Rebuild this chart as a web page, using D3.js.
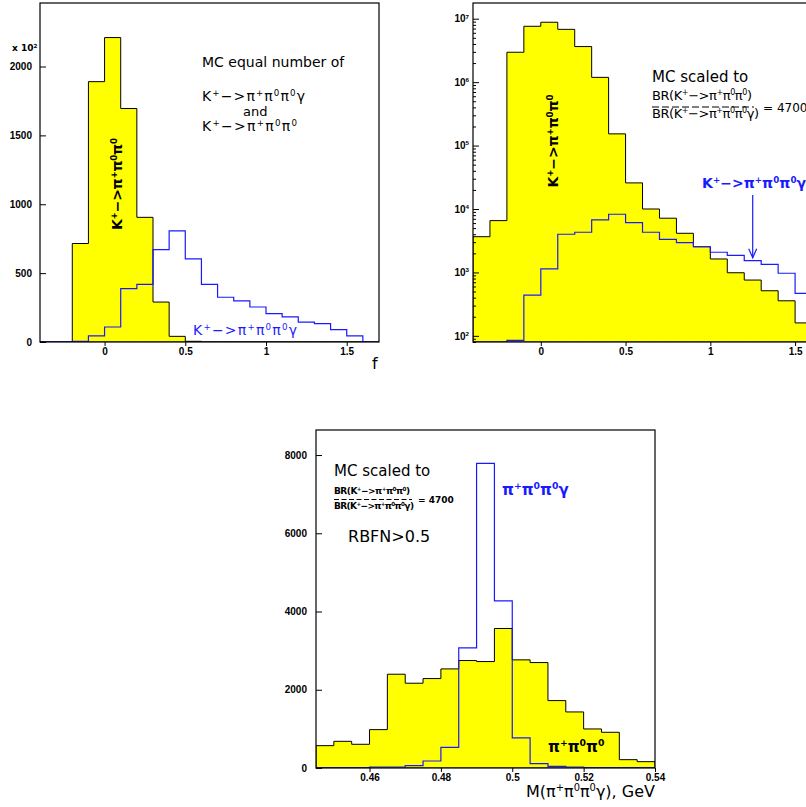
<!DOCTYPE html>
<html>
<head>
<meta charset="utf-8">
<style>
    body { margin: 0; background: #fff; }
    svg { display: block; font-family: "DejaVu Sans", sans-serif; }
    .tick text { font-family: "Liberation Sans", Arial, sans-serif; font-weight: bold; font-size: 10px; fill: #000; }
    .tick line { stroke: #000; }
    .note { fill: #000; }
    .blue { fill: #1a1aff; }
</style>
</head>
<body>
<svg width="806" height="807"></svg>

<script src="https://cdn.jsdelivr.net/npm/d3@7"></script>
<script>

// ---- data ----

// f bins (top panels)
let fEdges = [-0.4, -0.3, -0.2, -0.1, 0, 0.1, 0.2, 0.3, 0.4, 0.5, 0.6, 0.7, 0.8, 0.9, 1.0, 1.1, 1.2, 1.3, 1.4, 1.5, 1.6, 1.7]

// equal number MC, units of 10^2
let equalK3pi      = [0, 0, 715, 1890, 2210, 1695, 905, 290, 41, 5, 0, 0, 0, 0, 0, 0, 0, 0, 0, 0, 0]
let equalK3piGamma = [0, 0, 5, 44, 109, 388, 419, 671, 806, 603, 419, 325, 298, 254, 206, 182, 145, 134, 90, 44, 0]

// MC scaled to BR ratio (log scale)
let scaledK3pi      = [3660, 6560, 2.96e6, 7.6e6, 8.8e6, 6.8e6, 3.64e6, 1.19e6, 1.53e5, 2.58e4, 1.0e4, 7160, 4140, 2540, 1630, 988, 758, 514, 357, 160, 110]
let scaledK3piGamma = [0, 0, 85, 440, 1140, 4000, 4300, 6730, 8270, 6100, 4300, 3330, 2950, 2540, 2080, 1860, 1530, 1340, 970, 468, 300]

// invariant mass bins (bottom panel), GeV
let massEdges = [0.445, 0.45, 0.455, 0.46, 0.465, 0.47, 0.475, 0.48, 0.485, 0.49, 0.495, 0.5, 0.505, 0.51, 0.515, 0.52, 0.525, 0.53, 0.535, 0.54]
let massK3pi      = [571, 682, 606, 981, 2397, 2167, 2286, 2533, 2747, 2721, 3566, 2764, 2695, 1723, 1433, 998, 913, 213, 162]
let massK3piGamma = [10, 10, 10, 25, 25, 60, 179, 529, 3071, 7788, 4274, 768, 111, 43, 25, 10, 10, 10, 10]

// ticks
let fTicks = [0, 0.5, 1, 1.5]
let equalTicks = [0, 500, 1000, 1500, 2000]
let logTicks = [1e2, 1e3, 1e4, 1e5, 1e6, 1e7]
let massTicks = [0.46, 0.48, 0.5, 0.52, 0.54]
let massCountTicks = [0, 2000, 4000, 6000, 8000]

// ---- helpers ----

let svg = d3.select("svg")

// '^' makes the next character a superscript
function rich(sel, str, size) {
    let up = false
    for (let i = 0; i < str.length; i++) {
        let ch = str[i]
        let sup = false
        if (ch === "^") { ch = str[++i]; sup = true }
        let ts = sel.append("tspan").text(ch)
        if (sup && !up) ts.attr("dy", -size * 0.38)
        if (!sup && up) ts.attr("dy", size * 0.38)
        if (sup) ts.attr("font-size", size * 0.62)
        up = sup
    }
    return sel
}

function label(x, y, str, size, opts = {}) {
    let t = svg.append("text")
        .attr("class", opts.cls || "note")
        .attr("font-size", size)
        .attr("font-weight", opts.bold ? "bold" : "normal")
        .attr("text-anchor", opts.anchor || "start")
    if (opts.rotate) t.attr("transform", `translate(${x},${y}) rotate(-90)`)
    else t.attr("x", x).attr("y", y)
    if (opts.width) t.attr("textLength", opts.width)
    return rich(t, str, size)
}

function steps(edges, values) {
    let pts = [[edges[0], 0]]
    values.forEach((v, i) => {
        pts.push([edges[i], v])
        pts.push([edges[i + 1], v])
    })
    pts.push([edges[edges.length - 1], 0])
    return pts
}

function panel(o) {
    let floor = o.floor || 0
    let yv = v => o.y(Math.max(v, floor))
    let [left, right] = o.x.range()
    let [bottom, top] = o.y.range()

    svg.append("clipPath").attr("id", o.id)
        .append("rect")
        .attr("x", left).attr("y", top)
        .attr("width", right - left).attr("height", bottom - top)

    let plot = svg.append("g").attr("clip-path", `url(#${o.id})`)

    let area = d3.area()
        .x(d => o.x(d[0]))
        .y0(bottom)
        .y1(d => yv(d[1]))

    let line = d3.line()
        .x(d => o.x(d[0]))
        .y(d => yv(d[1]))

    plot.append("path")
        .datum(steps(o.edges, o.fill))
        .attr("fill", "#ffff00")
        .attr("stroke", "#000")
        .attr("stroke-width", 1)
        .attr("d", area)

    plot.append("path")
        .datum(steps(o.edges, o.line))
        .attr("fill", "none")
        .attr("stroke", "#1a1aff")
        .attr("stroke-width", 1.2)
        .attr("d", line)

    svg.append("rect")
        .attr("x", left).attr("y", top)
        .attr("width", right - left).attr("height", bottom - top)
        .attr("fill", "none")
        .attr("stroke", "#000")
        .attr("stroke-width", 1.2)

    svg.append("g")
        .attr("class", "x axis")
        .attr("transform", `translate(0,${bottom})`)
        .call(d3.axisBottom(o.x).tickValues(o.xTicks).tickSize(4).tickPadding(2).tickFormat(o.xFormat))
        .call(g => g.select(".domain").remove())

    let yg = svg.append("g")
        .attr("class", "y axis")
        .attr("transform", `translate(${left},0)`)
        .call(d3.axisLeft(o.y).tickValues(o.yTicks).tickSize(-6).tickPadding(o.yPad).tickFormat(o.yFormat))
        .call(g => g.select(".domain").remove())
    return yg
}

function fractionBar(x1, x2, y, dash) {
    svg.append("line")
        .attr("x1", x1).attr("x2", x2)
        .attr("y1", y).attr("y2", y)
        .attr("stroke", "#000").attr("stroke-width", 1)
        .attr("stroke-dasharray", dash)
}

// ---- top left: equal number ----

let x1 = d3.scaleLinear().domain([-0.4, 1.7]).range([40, 379])
let y1 = d3.scaleLinear().domain([0, 2461]).range([342, 3])

panel({
    id: "c1", x: x1, y: y1, edges: fEdges, fill: equalK3pi, line: equalK3piGamma,
    xTicks: fTicks, xFormat: d3.format("~g"),
    yTicks: equalTicks, yFormat: d3.format("d"), yPad: 8
})

label(12, 51, "x 10^2", 9, { bold: true })
label(202, 67, "MC equal number of", 14)
label(202, 101, "K^+−>π^+π^0π^0γ", 14, { width: 103 })
label(243, 116, "and", 13)
label(202, 131, "K^+−>π^+π^0π^0", 14, { width: 95 })
label(122, 184, "K^+−>π^+π^0π^0", 14, { rotate: true, anchor: "middle", bold: true, width: 92 })
label(193, 335, "K^+−>π^+π^0π^0γ", 14, { cls: "note blue", width: 104 })
label(372, 369, "f", 16)

// ---- top right: scaled, log ----

let x2 = d3.scaleLinear().domain([-0.4, 1.7]).range([473, 829])
let y2 = d3.scaleLog().domain([80, 1.77e7]).range([342, 3]).clamp(true)

let yg2 = panel({
    id: "c2", x: x2, y: y2, edges: fEdges, fill: scaledK3pi, line: scaledK3piGamma, floor: 1,
    xTicks: fTicks, xFormat: d3.format("~g"),
    yTicks: logTicks, yFormat: d => "", yPad: 4
})

// powers of ten as 10^n
yg2.selectAll(".tick text").each(function (d) {
    let t = d3.select(this).attr("text-anchor", "end")
    rich(t, "10^" + Math.round(Math.log10(d)), 10)
})

// minor log ticks
svg.append("g")
    .attr("class", "y axis minor")
    .attr("transform", `translate(473,0)`)
    .call(d3.axisLeft(y2).tickValues(y2.ticks().filter(v => !logTicks.includes(v))).tickSize(-3).tickFormat(""))
    .call(g => g.select(".domain").remove())

label(652, 82, "MC scaled to", 15)
label(652, 100, "BR(K^+−>π^+π^0π^0)", 13, { width: 100 })
fractionBar(652, 754, 107, "7,3")
label(652, 118, "BR(K^+−>π^+π^0π^0γ)", 13, { width: 107 })
label(763, 112, "= 4700", 12)
label(558, 141, "K^+−>π^+π^0π^0", 14, { rotate: true, anchor: "middle", bold: true, width: 93 })
label(702, 188, "K^+−>π^+π^0π^0γ", 14, { cls: "note blue", bold: true, width: 104 })

// arrow to the pi+ pi0 pi0 gamma curve at f = 1.25
let arrowF = 1.25
let arrowTip = y2(scaledK3piGamma[16]) - 3
svg.append("line")
    .attr("x1", x2(arrowF)).attr("x2", x2(arrowF))
    .attr("y1", 195).attr("y2", arrowTip)
    .attr("stroke", "#1a1aff").attr("stroke-width", 1.2)
svg.append("path")
    .attr("d", `M${x2(arrowF) - 4},${arrowTip - 9} L${x2(arrowF)},${arrowTip} L${x2(arrowF) + 4},${arrowTip - 9}`)
    .attr("fill", "none").attr("stroke", "#1a1aff").attr("stroke-width", 1.2)

// ---- bottom: invariant mass ----

let x3 = d3.scaleLinear().domain([0.445, 0.54]).range([316, 655])
let y3 = d3.scaleLinear().domain([0, 8640]).range([768, 430])

panel({
    id: "c3", x: x3, y: y3, edges: massEdges, fill: massK3pi, line: massK3piGamma,
    xTicks: massTicks, xFormat: d3.format("~g"),
    yTicks: massCountTicks, yFormat: d3.format("d"), yPad: 9
})

label(334, 476, "MC scaled to", 15)
label(334, 494, "BR(K^+−>π^+π^0π^0)", 9, { bold: true, width: 76 })
fractionBar(334, 412, 499.5, "5,2.5")
label(334, 509, "BR(K^+−>π^+π^0π^0γ)", 9, { bold: true, width: 80 })
label(418, 503, "= 4700", 9, { bold: true })
label(348, 542, "RBFN>0.5", 16)
label(502, 495, "π^+π^0π^0γ", 15, { cls: "note blue", bold: true })
label(548, 752, "π^+π^0π^0", 15, { bold: true })
label(655, 797, "M(π^+π^0π^0γ), GeV", 16, { anchor: "end" })

</script>
</body>
</html>
